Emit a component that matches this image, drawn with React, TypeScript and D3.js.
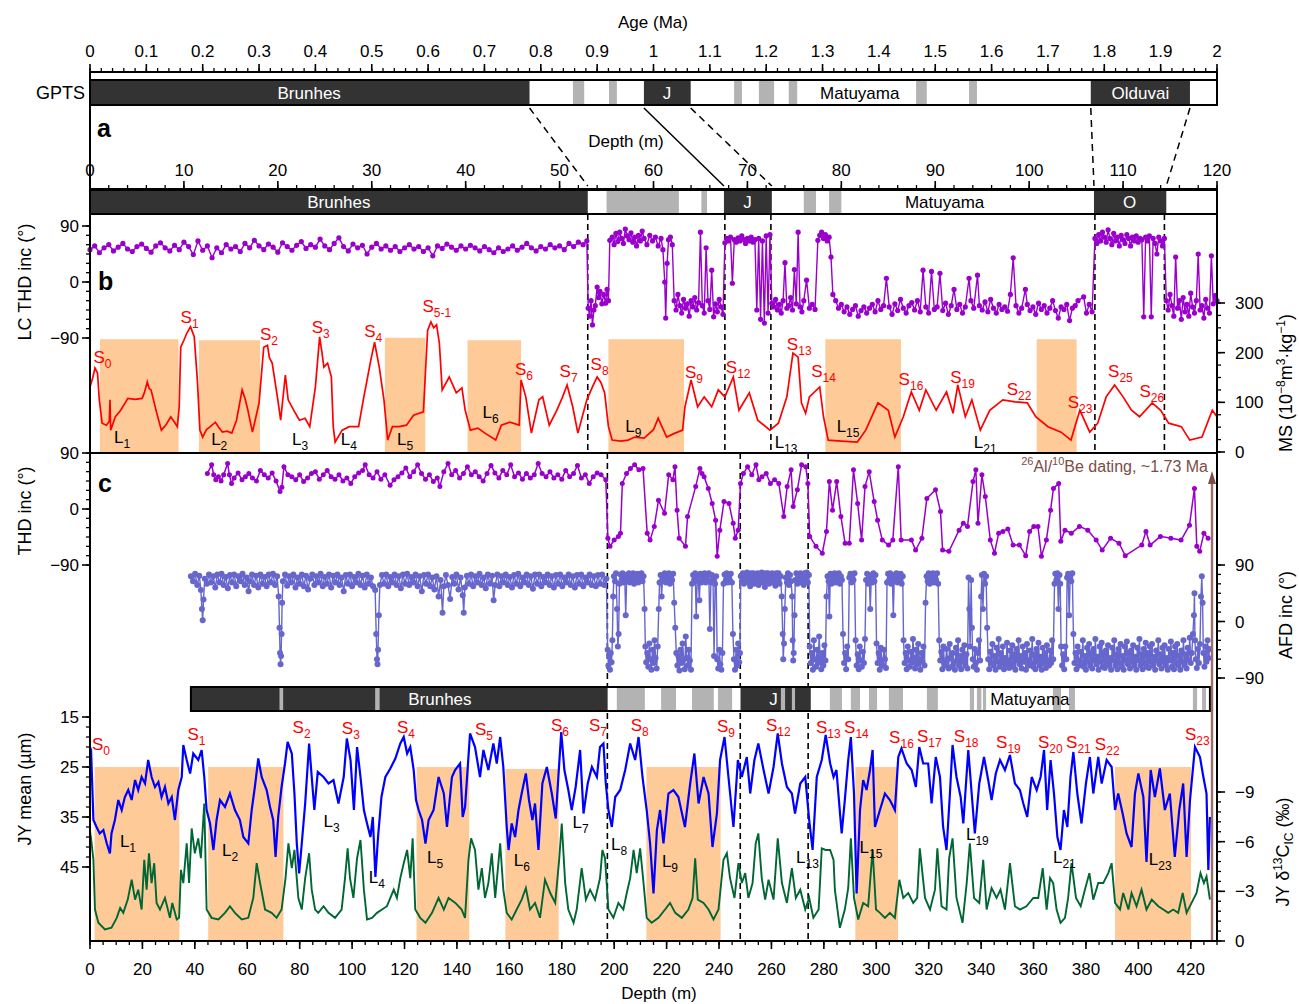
import React from 'react';
import * as d3 from 'd3';

type P = [number, number];

// ---------- polarity columns ----------
const gptsBlack: P[] = [[0, 0.78], [0.983, 1.066], [1.776, 1.952]];
const gptsGrey: P[] = [[0.857, 0.877], [0.921, 0.935], [1.143, 1.157], [1.187, 1.214], [1.24, 1.255], [1.466, 1.485], [1.56, 1.574]];
const gptsNames: [string, number, boolean][] = [['Brunhes', 0.389, true], ['J', 1.024, true], ['Matuyama', 1.366, false], ['Olduvai', 1.864, true]];
// age (Ma) -> LC depth (m), dashed?
const tieLines: [number, number, boolean][] = [[0.78, 53.0, true], [0.983, 67.5, false], [1.066, 72.6, true], [1.776, 106.9, true], [1.952, 114.6, true]];

const lcBlack: P[] = [[0, 53.0], [67.5, 72.6], [106.9, 114.6]];
const lcGrey: P[] = [[55.0, 62.7], [65.1, 65.7], [76.0, 77.3], [78.7, 80.0]];
const lcNames: [string, number, boolean][] = [['Brunhes', 26.5, true], ['J', 70.0, true], ['Matuyama', 91.0, false], ['O', 110.7, true]];
const lcBounds = [53.0, 67.6, 72.5, 107.0, 114.4];

const jyExtent: P = [38.5, 427.3];
const jyBlack: P[] = [[38.5, 197.5], [248.2, 275.0]];
const jyGrey: P[] = [[72.3, 73.7], [108.8, 110.5], [201, 211.7], [217.9, 223.6], [229.7, 238], [239.6, 245], [263.6, 265.2], [267.8, 269], [282.3, 286.9], [290.3, 293.8], [297.2, 300.3], [304.8, 310.2], [319.3, 323.5], [335.7, 337.3], [338.4, 340.1], [340.7, 341.9], [367.4, 370.5], [373.5, 375.8], [420.8, 422.4], [424.3, 425.8]];
const jyNames: [string, number, boolean][] = [['Brunhes', 133.5, true], ['J', 260.8, true], ['Matuyama', 358.6, false]];
const jyBounds = [197.4, 248.1, 274.0];

// ---------- loess shading ----------
const lcLoess: [number, number, number][] = [[1.06, 9.43, 227], [11.6, 18.1, 225], [31.4, 35.7, 230], [40.2, 45.9, 225], [55.2, 63.25, 227], [78.3, 86.35, 227], [100.8, 105.05, 227]];
const jyLoess: [number, number, number][] = [[1.75, 34.1, 25], [45.1, 73.8, 25], [124.6, 144.7, 25], [158.5, 178.8, 25.4], [212.3, 240.6, 25], [292, 308.3, 25], [391.1, 420.1, 25]];

// ---------- LC: magnetic susceptibility (10^-8 m3/kg) ----------
const lcMS: P[] = [[0,131],[0.3,150],[0.53,169],[0.8,159],[0.99,105],[1.29,58],[1.75,54],[2.05,62],[2.13,105],[2.2,44],[2.7,71],[3.27,84],[4.03,108],[4.8,106],[5.55,108],[5.8,120],[6.1,141],[6.3,128],[6.5,125],[7.07,81],[7.6,44],[8.1,55],[8.6,71],[9.0,60],[9.3,51],[9.5,91],[9.66,211],[10.0,225],[10.3,239],[10.7,252],[11.1,232],[11.45,139],[11.7,44],[12.0,30],[12.4,45],[12.8,51],[13.35,60],[13.7,50],[14.1,40],[14.6,42],[15.1,38],[15.6,64],[16.2,125],[16.5,108],[16.8,85],[17.3,40],[18.0,99],[18.5,211],[18.9,215],[19.1,190],[19.4,179],[20.0,105],[20.3,64],[20.8,155],[21.1,105],[21.7,84],[22.3,64],[22.9,68],[23.4,51],[24.0,131],[24.45,232],[24.7,200],[24.9,171],[25.3,179],[25.7,151],[25.9,51],[26.1,20],[26.85,44],[27.6,51],[28.6,51],[29.1,105],[29.9,185],[30.3,221],[30.8,171],[31.3,105],[31.7,24],[32.2,51],[32.9,51],[33.7,54],[34.45,74],[35.5,81],[35.95,245],[36.3,262],[36.6,250],[36.9,256],[37.2,219],[37.5,125],[38.25,151],[39.0,119],[39.6,129],[39.95,84],[40.5,44],[41.3,48],[42.05,38],[43.2,24],[43.8,54],[44.7,60],[45.7,54],[45.9,145],[46.4,111],[47.0,38],[47.8,105],[48.2,111],[48.9,54],[49.7,84],[50.3,110],[50.8,135],[51.4,91],[51.95,38],[52.9,105],[53.5,131],[54.0,151],[54.4,140],[54.8,119],[55.2,51],[55.6,24],[56.5,22],[57.3,24],[58.0,30],[59.0,28],[60.0,45],[60.5,68],[61.4,30],[62.3,38],[63.1,44],[63.35,91],[64.0,145],[64.7,91],[65.4,111],[66.2,91],[66.9,125],[67.6,111],[68.5,151],[69.1,84],[70.2,119],[71.1,64],[72.4,44],[73.3,58],[74.2,111],[74.85,199],[75.4,191],[75.75,99],[76.2,78],[76.6,111],[77.7,131],[78.1,71],[78.6,24],[80.0,22],[81.7,20],[82.6,44],[83.9,99],[85.0,84],[85.7,30],[86.6,71],[87.45,121],[88.3,84],[89.0,125],[90.1,84],[91.2,121],[91.9,78],[92.4,135],[93.2,71],[93.9,105],[94.8,44],[95.8,84],[97.2,105],[98.5,101],[99.8,99],[100.7,71],[102.0,51],[103.4,40],[104.45,24],[105.4,84],[106.45,40],[107.3,58],[108.2,111],[109.1,135],[110.0,111],[110.9,84],[111.75,71],[113.1,99],[114.0,84],[114.85,58],[116.2,51],[117.1,24],[118.4,30],[119.5,84],[120,71]];

// ---------- LC: THD inclination (deg) ----------
const lcInc: P[] = [[0,52],[0.5,58],[1,47],[1.5,55],[2,60],[2.5,50],[3,56],[3.5,62],[4,53],[4.5,49],[5,57],[5.5,61],[6,54],[6.5,48],[7,58],[7.5,63],[8,55],[8.5,50],[9,59],[9.5,52],[10,64],[10.5,57],[11,44],[11.5,66],[12,51],[12.5,58],[13,39],[13.5,55],[14,47],[14.5,60],[15,53],[15.5,57],[16,49],[16.5,62],[17,55],[17.5,67],[18,58],[18.5,52],[19,61],[19.5,56],[20,48],[20.5,63],[21,57],[21.5,51],[22,59],[22.5,65],[23,54],[23.5,60],[24,56],[24.5,69],[25,58],[25.5,52],[26,62],[26.5,71],[27,57],[27.5,50],[28,61],[28.5,55],[29,59],[29.5,45],[30,56],[30.5,62],[31,53],[31.5,58],[32,51],[32.5,57],[33,49],[33.5,55],[34,60],[34.5,53],[35,57],[35.5,49],[36,55],[36.5,42],[37,58],[37.5,54],[38,61],[38.5,56],[39,51],[39.5,58],[40,53],[40.5,59],[41,55],[41.5,50],[42,57],[42.5,52],[43,47],[43.5,55],[44,49],[44.5,53],[45,58],[45.5,51],[46,56],[46.5,62],[47,55],[47.5,50],[48,57],[48.5,53],[49,60],[49.5,55],[50,58],[50.5,52],[51,62],[51.5,57],[52,64],[52.5,60],[52.9,66],
[53.05,-42],[53.2,-55],[53.35,-30],[53.5,-69],[53.65,-45],[53.8,-38],[54.0,-8],[54.15,-25],[54.3,-15],[54.5,-35],[54.7,-20],[54.9,-34],[55.05,-12],[55.2,-30],[55.35,67],[55.6,72],[55.8,60],[56.0,78],[56.2,65],[56.4,80],[56.6,70],[56.8,62],[57.0,85],[57.2,74],[57.4,68],[57.6,79],[57.8,64],[58.0,72],[58.2,58],[58.4,75],[58.6,66],[58.8,82],[59.0,70],[59.3,60],[59.6,75],[59.9,66],[60.2,72],[60.5,58],[60.8,70],[61.0,52],[61.2,0],[61.3,-58],[61.45,30],[61.6,68],[61.8,72],[62.0,60],[62.2,-30],[62.4,-45],[62.6,-20],[62.8,-38],[63.0,-50],[63.2,-28],[63.4,-42],[63.6,-35],[63.8,-55],[64.0,-30],[64.2,-40],[64.4,-25],[64.6,-45],[64.8,-33],[65.0,80],[65.2,-38],[65.4,-50],[65.6,55],[65.8,-30],[66.0,-44],[66.2,19],[66.4,-56],[66.6,-35],[66.8,-48],[67.0,-28],[67.2,-40],[67.4,-52],
[67.6,63],[67.8,70],[68.0,66],[68.2,72],[68.4,-2],[68.6,68],[68.8,64],[69.0,71],[69.2,66],[69.4,74],[69.6,68],[69.8,62],[70.0,70],[70.2,66],[70.4,72],[70.6,64],[70.8,68],[71.0,-45],[71.2,70],[71.4,-60],[71.6,66],[71.8,-66],[72.0,74],[72.2,-50],[72.4,76],
[72.6,-34],[72.8,-40],[73.0,-28],[73.2,-45],[73.4,-36],[73.6,-50],[73.8,-30],[74.0,31],[74.2,-42],[74.4,-38],[74.6,-25],[74.8,-45],[75.0,20],[75.2,-35],[75.4,80],[75.6,-40],[75.8,-48],[76.0,-30],[76.3,3],[76.6,-42],[76.9,-36],[77.2,-44],[77.5,67],[77.7,75],[77.9,80],[78.1,70],[78.3,76],[78.5,66],[78.7,72],[78.9,40],[79.1,-20],[79.4,-30],[79.7,-42],[80.0,-36],[80.3,-48],[80.6,-40],[80.9,-52],[81.2,-44],[81.5,-38],[81.8,-55],[82.1,-46],[82.4,-40],[82.7,-50],[83.0,-42],[83.3,-36],[83.6,-48],[83.9,-30],[84.2,-44],[84.5,-38],[84.8,6],[85.1,-40],[85.4,-52],[85.7,-35],[86.0,-46],[86.3,-28],[86.6,-42],[86.9,-50],[87.2,-38],[87.5,-33],[87.8,-45],[88.1,-30],[88.4,-48],[88.7,19],[89.0,-40],[89.3,-50],[89.6,17],[89.9,-44],[90.2,-40],[90.5,14],[90.8,-46],[91.1,-34],[91.4,-52],[91.7,-38],[92.0,-12],[92.3,-44],[92.6,-36],[92.9,-50],[93.2,-40],[93.6,6],[93.8,-30],[94.1,-42],[94.5,11],[94.7,-38],[95.0,-45],[95.3,-32],[95.6,-48],[95.9,-28],[96.2,-42],[96.5,-50],[96.8,-36],[97.1,-44],[97.4,-40],[97.7,-47],[98.0,-20],[98.3,39],[98.6,-38],[98.9,-50],[99.2,-42],[99.6,-12],[99.8,-36],[100.1,-46],[100.4,-40],[100.7,-52],[101.0,-34],[101.3,-44],[101.6,-38],[101.9,-50],[102.2,-42],[102.5,-30],[102.8,-46],[103.1,-58],[103.4,-40],[103.7,-44],[104.0,-36],[104.3,-62],[104.6,-42],[104.9,-38],[105.2,-30],[105.8,-24],[106.1,-50],[106.4,-36],[106.7,-48],
[107.0,70],[107.2,62],[107.4,76],[107.6,66],[107.8,80],[108.0,72],[108.2,64],[108.4,84],[108.6,70],[108.8,60],[109.0,78],[109.2,66],[109.4,72],[109.6,58],[109.8,75],[110.0,68],[110.2,62],[110.4,76],[110.6,70],[110.8,58],[111.0,72],[111.2,66],[111.4,74],[111.6,64],[111.8,70],[112.0,68],[112.2,-56],[112.4,72],[112.6,66],[112.8,74],[113.0,-56],[113.2,70],[113.4,62],[113.6,45],[113.8,72],[114.0,66],[114.2,58],[114.4,70],
[114.6,-30],[114.8,-45],[115.0,-20],[115.2,-38],[115.4,-55],[115.6,40],[115.8,-42],[116.0,-30],[116.2,-60],[116.4,-25],[116.6,-48],[116.8,-36],[117.0,-55],[117.2,-18],[117.4,-40],[117.6,-50],[117.8,-30],[118.0,45],[118.2,-45],[118.4,-38],[118.6,-58],[118.8,-28],[119.0,-42],[119.2,-50],[119.4,42],[119.6,-35],[119.8,-22],[120.0,-30]];

// ---------- JY: THD inclination (deg) ----------
const jyThd: P[] = [[44.8,57],[46.4,71],[47.2,55],[48,47],[49,52],[50,45],[51,55],[52.5,73],[53.2,55],[54,41],[55,50],[56.5,58],[58,47],[59.3,52],[60.6,57],[62,50],[63.5,45],[65,62],[66.5,55],[68,50],[69.5,58],[71,45],[72.5,28],[73.2,35],[74,68],[75.5,55],[77,52],[78.5,47],[80,55],[81.5,44],[83,50],[84.5,57],[86,60],[87.5,48],[89,55],[90.5,62],[92,52],[93.5,48],[95,55],[96.5,45],[98,50],[99.5,41],[101,52],[102.5,58],[104,62],[105,71],[106.5,55],[108,50],[109.5,60],[111,48],[112.5,55],[114.5,38],[116,47],[117.5,52],[119,58],[120.5,66],[122,52],[123.5,60],[125,71],[126.5,57],[128,48],[129.5,55],[131,44],[132.5,50],[133.5,36],[135,60],[136.6,73],[138,55],[139.5,62],[141,50],[142.5,57],[144,68],[145.5,55],[147,60],[148.5,52],[150,45],[151.5,57],[153,70],[154.5,58],[156,50],[157.5,62],[159,55],[160.5,71],[162,52],[163.5,58],[165,48],[166.5,57],[168,50],[169.5,55],[171,73],[172.5,57],[174,52],[175.5,60],[177,50],[178.5,55],[180,48],[181.5,62],[183,52],[184.5,57],[186,70],[187.5,50],[189,55],[190.5,41],[192,52],[193.5,58],[195,55],[196.8,47],
[197.6,-47],[198.4,-60],[200,-50],[201.6,-44],[202.4,-39],[203.1,41],[204.7,57],[206.2,65],[207.8,71],[209.4,63],[211,65],[212.6,-39],
[213.7,-50],[215.3,-28],[216.9,14],[219.2,-7],[220.8,55],[222.4,47],[223.2,68],[224,-2],[224.8,-47],[227.2,-60],[228,-12],[231.1,36],[232.7,65],[233.5,57],[234.3,52],[235.9,33],[237.4,9],[238.7,-18],[239.3,-76],[240.3,-34],[241.9,12],[243.8,9],[245.4,-23],[246.2,-47],[247.3,-34],[248.2,41],
[249.3,57],[250.9,68],[252.5,55],[254.1,71],[255.2,47],[256.4,52],[258,57],[259.6,41],[261.2,47],[262.8,41],[264.7,-12],[266,36],[267.5,63],[268.3,4],[269.9,31],[271.5,71],[273.1,68],[273.9,41],
[274.6,-44],[277,-60],[279.4,-71],[281,-36],[282.1,44],[283.3,-2],[284.9,44],[286.5,-12],[288.1,-55],[289.7,-55],[291.3,63],[292.9,9],[294.4,-50],[295.7,36],[297.3,60],[299.2,12],[300.5,-18],[302.3,-50],[304.7,-58],[306.3,-50],[308.4,68],[309.5,-50],[313.4,-50],[315,-66],[317.4,-47],[319.3,17],[322.6,31],[324.5,-4],[325.3,-66],[327.7,-68],[331.6,-34],[333.2,-23],[334.8,-28],[336.9,44],[338,63],[338.8,-23],[340.3,55],[341.6,20],[343.5,-50],[345.1,-71],[346.7,-39],[348.3,-36],[350.2,-32],[352.2,-58],[354.6,-58],[357,-75],[358.5,-36],[360.1,-28],[361.7,-28],[363,-76],[364.9,-50],[366.5,-2],[367.6,33],[369.6,41],[370.4,-52],[372,-34],[374.4,-39],[377.5,-28],[380.7,-34],[383.9,-50],[386.2,-66],[389.4,-47],[392.6,-55],[395,-75],[401.3,-58],[402.9,-36],[404.5,-58],[408.4,-44],[412.4,-47],[416.3,-50],[419.5,-26],[421.4,33],[422.3,-60],[423.4,-68],[425,-39],[426.6,-47]];

// ---------- JY: AF demagnetization inclination (deg) ----------
const jyAfd: P[] = [[38.5,72],[39.3,64],[40.1,76],[40.9,58],[41.7,73],[42.3,50],[42.7,20],[43.0,2],[43.3,35],[43.8,68],[44.6,60],[45.4,75],[46.2,62],[47.0,72],[47.8,54],[48.6,75],[49.4,62],[50.2,76],[51.0,58],[51.8,71],[52.6,53],[53.4,74],[54.2,62],[55.0,75],[55.8,56],[56.6,72],[57.4,64],[58.2,76],[59.0,58],[59.8,70],[60.5,48],[61.0,64],[61.8,75],[62.6,58],[63.4,73],[64.2,54],[65.0,75],[65.8,60],[66.6,71],[67.4,56],[68.2,75],[69.0,62],[69.8,76],[70.6,58],[71.4,72],[72.0,40],[72.3,-10],[72.5,-50],[72.7,-68],[72.9,-55],[73.1,-20],[73.3,30],[73.6,64],[74.4,75],[75.2,57],[76.0,72],[76.8,62],[77.6,75],[78.4,54],[79.2,70],[80.0,60],[80.8,75],[81.6,56],[82.4,73],[83.2,51],[84.0,68],[84.8,75],[85.6,58],[86.4,72],[87.2,62],[88.0,76],[88.8,56],[89.6,71],[90.4,60],[91.2,75],[92.0,54],[92.8,73],[93.6,62],[94.4,75],[95.2,58],[96.0,70],[96.8,48],[97.6,74],[98.4,60],[99.2,75],[100.0,56],[100.8,71],[101.6,62],[102.4,76],[103.2,58],[104.0,73],[104.8,54],[105.6,75],[106.4,60],[107.2,70],[108.0,56],[108.8,50],[109.2,-20],[109.5,-60],[109.7,-68],[109.9,-45],[110.2,10],[110.6,58],[111.4,74],[112.2,60],[113.0,75],[113.8,56],[114.6,71],[115.4,62],[116.2,75],[117.0,58],[117.8,72],[118.6,53],[119.4,75],[120.2,60],[121.0,76],[121.8,58],[122.6,71],[123.4,62],[124.2,75],[125.0,56],[125.8,72],[126.6,48],[127.4,74],[128.2,60],[129.0,75],[129.8,56],[130.6,70],[131.4,51],[132.2,72],[133.0,40],[133.8,66],[134.5,14],[135.0,56],[135.8,74],[136.6,58],[137.4,36],[138.2,71],[139.0,60],[139.8,75],[140.6,51],[141.4,70],[142.2,42],[142.6,14],[143.0,54],[143.8,73],[144.6,60],[145.4,75],[146.2,56],[147.0,72],[147.8,62],[148.6,76],[149.4,58],[150.2,70],[151.0,53],[151.8,75],[152.6,60],[153.4,73],[154.0,34],[154.6,58],[155.4,75],[156.2,56],[157.0,72],[157.8,62],[158.6,75],[159.4,58],[160.2,71],[161.0,54],[161.8,74],[162.6,60],[163.4,76],[164.2,56],[165.0,70],[165.8,62],[166.6,75],[167.4,58],[168.2,72],[169.0,52],[169.8,75],[170.6,60],[171.4,75],[172.2,56],[173.0,71],[173.8,62],[174.6,75],[175.4,58],[176.2,72],[177.0,54],[177.8,74],[178.6,60],[179.4,75],[180.2,56],[181.0,70],[181.8,62],[182.6,75],[183.4,58],[184.2,72],[185.0,54],[185.8,74],[186.6,60],[187.4,75],[188.2,56],[189.0,70],[189.8,62],[190.6,75],[191.4,58],[192.2,72],[193.0,56],[193.8,74],[194.6,60],[195.4,75],[196.2,58],[197.0,68],
[197.5,-45],[197.8,-70],[198.1,-55],[198.4,-77],[198.7,-50],[199.0,-65],[199.3,-30],[199.6,40],[199.9,72],[200.3,64],[200.7,77],[201.1,20],[201.4,-40],[201.7,-20],[202.0,60],[202.4,75],[202.8,66],[203.2,77],[203.6,62],[204.0,74],[204.4,10],[204.8,70],[205.2,64],[205.6,77],[206.0,62],[206.4,74],[206.8,66],[207.2,77],[207.6,60],[208.0,72],[208.4,66],[208.8,76],[209.2,62],[209.6,74],[210.0,68],[210.4,77],[210.8,64],[211.2,72],[211.6,20],[211.9,-40],[212.2,-65],[212.6,-50],[213.0,-72],[213.4,-35],[213.8,-60],[214.2,-77],[214.6,-45],[215.0,-66],[215.4,-30],[215.8,-58],[216.2,-75],[216.6,-40],[217.0,20],[217.3,62],[217.7,74],[218.1,40],[218.5,72],[218.9,66],[219.3,77],[219.7,62],[220.1,74],[220.5,64],[220.9,77],[221.3,60],[221.7,72],[222.1,66],[222.5,76],[222.9,30],[223.3,-10],[223.7,-50],[224.1,-70],[224.5,-55],[224.9,-78],[225.3,-45],[225.7,-66],[226.1,-35],[226.5,-60],[226.9,-76],[227.3,-24],[227.7,-58],[228.1,-70],[228.5,-45],[228.9,-62],[229.3,-77],[229.7,60],[230.1,74],[230.5,66],[230.9,77],[231.3,8],[231.7,72],[232.1,64],[232.5,34],[232.9,76],[233.3,62],[233.7,74],[234.1,68],[234.5,77],[234.9,62],[235.3,72],[235.7,65],[236.1,77],[236.5,-12],[236.9,62],[237.3,74],[237.7,68],[238.1,-55],[238.5,60],[238.9,72],[239.3,-60],[239.7,-75],[240.1,-45],[240.5,-68],[240.9,-77],[241.3,-50],[241.7,60],[242.1,75],[242.5,64],[242.9,77],[243.3,62],[243.7,74],[244.1,66],[244.5,76],[244.9,62],[245.3,-20],[245.7,-60],[246.1,-77],[246.5,-45],[246.9,-70],[247.3,-35],[247.7,-65],[248.0,-50],
[248.3,72],[248.7,64],[249.1,77],[249.5,60],[249.9,75],[250.3,66],[250.7,78],[251.1,62],[251.5,74],[251.9,56],[252.3,77],[252.7,64],[253.1,77],[253.5,60],[253.9,72],[254.3,66],[254.7,77],[255.1,58],[255.5,75],[255.9,64],[256.3,78],[256.7,62],[257.1,74],[257.5,55],[257.9,77],[258.3,65],[258.7,77],[259.1,60],[259.5,73],[259.9,66],[260.3,77],[260.7,62],[261.1,74],[261.5,57],[261.9,77],[262.3,64],[262.7,77],[263.1,60],[263.5,72],[263.9,40],[264.3,-20],[264.5,-60],[264.8,-35],[265.1,20],[265.5,70],[265.9,62],[266.3,77],[266.7,58],[267.1,74],[267.5,64],[267.9,40],[268.1,-30],[268.3,-62],[268.5,-50],[268.8,10],[269.1,66],[269.5,77],[269.9,60],[270.3,73],[270.7,66],[271.1,77],[271.5,62],[271.9,74],[272.3,58],[272.7,77],[273.1,64],[273.5,78],[273.9,62],[274.3,74],
[274.6,-40],[275.0,-66],[275.4,-50],[275.8,-77],[276.2,-30],[276.6,-60],[277.0,-72],[277.4,-45],[277.8,-66],[278.2,-24],[278.6,-58],[279.0,-76],[279.4,-50],[279.8,-70],[280.2,-38],[280.6,-62],[281.0,40],[281.4,72],[281.8,64],[282.1,8],[282.5,76],[282.9,60],[283.3,74],[283.7,66],[284.1,77],[284.5,62],[284.9,74],[285.3,64],[285.7,77],[286.1,60],[286.5,72],[286.9,66],[287.3,-20],[287.7,-66],[288.1,-50],[288.5,-76],[288.9,-40],[289.3,-60],[289.7,70],[290.1,76],[290.5,62],[290.9,74],[291.3,66],[291.7,77],[292.1,-30],[292.5,-70],[292.9,-52],[293.3,-76],[293.7,-40],[294.1,-62],[294.5,-72],[294.9,-48],[295.3,-66],[295.7,-28],[296.1,66],[296.5,76],[296.9,60],[297.3,74],[297.7,20],[298.1,70],[298.5,62],[298.9,77],[299.3,64],[299.7,74],[300.1,-35],[300.5,-66],[300.9,-50],[301.3,-77],[301.7,-42],[302.1,-62],[302.5,-70],[302.9,-45],[303.3,-60],[303.7,-74],[304.1,62],[304.5,76],[304.9,66],[305.3,77],[305.7,60],[306.1,72],[306.5,10],[306.9,74],[307.3,64],[307.7,77],[308.1,62],[308.5,74],[308.9,66],[309.3,76],[309.7,60],[310.1,72],[310.4,-30],[310.8,-66],[311.2,-50],[311.6,-76],[312.0,-40],[312.4,-62],[312.8,-72],[313.2,-48],[313.6,-66],[314.0,-28],[314.4,-58],[314.8,-75],[315.2,-45],[315.6,-68],[316.0,-36],[316.4,-60],[316.8,-77],[317.2,-50],[317.6,-64],[318.0,-40],[318.4,-70],[318.8,30],[319.2,72],[319.6,64],[320.0,77],[320.4,60],[320.8,74],[321.2,66],[321.6,77],[322.0,62],[322.4,74],[322.8,66],[323.2,77],[323.6,60],[324.0,-30],[324.4,-62],[324.8,-48],[325.2,-76],[325.6,-40],[326.0,-66],[326.4,-70],[326.8,-44],[327.2,-60],[327.6,-75],[328.0,-36],[328.4,-58],[328.8,-72],[329.2,-50],[329.6,-66],[330.0,-77],[330.4,-42],[330.8,-62],[331.2,-30],[331.6,-70],[332.0,-55],[332.4,-76],[332.8,-45],[333.2,-64],[333.6,-38],[334.0,-70],[334.4,-52],[334.8,-75],[335.2,70],[335.5,20],[335.8,-40],[336.2,66],[336.5,-10],[336.8,-60],[337.2,-72],[337.6,-44],[338.0,-66],[338.4,-77],[338.8,-50],[339.2,-30],[339.6,-62],[340.0,40],[340.3,74],[340.7,20],[341.1,76],[341.5,60],[341.9,72],[342.3,-10],[342.7,-60],[343.1,-76],[343.5,-48],[343.9,-66],[344.3,-36],[344.7,-70],[345.1,-55],[345.5,-77],[345.9,-42],[346.3,-64],[346.7,-28],[347.1,-72],[347.5,-50],[347.9,-66],[348.3,-40],[348.7,-76],[349.1,-58],[349.5,-68],[349.9,-34],[350.3,-62],[350.7,-74],[351.1,-46],[351.5,-66],[351.9,-38],[352.3,-72],[352.7,-52],[353.1,-77],[353.5,-44],[353.9,-62],[354.3,-30],[354.7,-68],[355.1,-55],[355.5,-75],[355.9,-40],[356.3,-64],[356.7,-50],[357.1,-77],[357.5,-36],[357.9,-62],[358.3,-70],[358.7,-46],[359.1,-66],[359.5,-28],[359.9,-72],[360.3,-52],[360.7,-76],[361.1,-44],[361.5,-64],[361.9,-34],[362.3,-70],[362.7,-56],[363.1,-77],[363.5,-42],[363.9,-66],[364.3,-50],[364.7,-74],[365.1,-38],[365.5,-62],[365.9,-70],[366.3,-46],[366.7,-66],[367.1,-30],[367.5,-60],
[368.0,60],[368.3,76],[368.7,66],[369.1,77],[369.5,20],[369.9,74],[370.2,60],[370.5,-40],[370.9,-70],[371.3,-52],[371.7,-76],[372.1,-40],[372.5,-60],[372.8,70],[373.2,76],[373.6,10],[374.0,72],[374.4,64],[374.8,77],[375.2,-20],[375.6,-66],[376.0,-50],[376.4,-76],[376.8,-40],[377.2,-62],[377.6,-70],[378.0,-48],[378.4,-66],[378.8,-30],[379.2,-72],[379.6,-55],[380.0,-77],[380.4,-42],[380.8,-64],[381.2,-36],[381.6,-70],[382.0,-50],[382.4,-75],[382.8,-44],[383.2,-62],[383.6,-28],[384.0,-68],[384.4,-56],[384.8,-77],[385.2,-40],[385.6,-64],[386.0,-34],[386.4,-72],[386.8,-50],[387.2,-74],[387.6,-46],[388.0,-66],[388.4,-38],[388.8,-70],[389.2,-58],[389.6,-77],[390.0,-42],[390.4,-62],[390.8,-30],[391.2,-70],[391.6,-52],[392.0,-76],[392.4,-44],[392.8,-66],[393.2,-36],[393.6,-72],[394.0,-55],[394.4,-77],[394.8,-40],[395.2,-62],[395.6,-32],[396.0,-68],[396.4,-50],[396.8,-75],[397.2,-46],[397.6,-64],[398.0,-38],[398.4,-70],[398.8,-56],[399.2,-77],[399.6,-42],[400.0,-62],[400.4,-28],[400.8,-70],[401.2,-52],[401.6,-76],[402.0,-44],[402.4,-66],[402.8,-34],[403.2,-72],[403.6,-50],[404.0,-74],[404.4,-40],[404.8,-64],[405.2,-36],[405.6,-70],[406.0,-56],[406.4,-77],[406.8,-46],[407.2,-62],[407.6,-30],[408.0,-68],[408.4,-52],[408.8,-75],[409.2,-42],[409.6,-64],[410.0,-38],[410.4,-70],[410.8,-58],[411.2,-77],[411.6,-44],[412.0,-62],[412.4,-32],[412.8,-72],[413.2,-50],[413.6,-76],[414.0,-40],[414.4,-66],[414.8,-36],[415.2,-70],[415.6,-54],[416.0,-77],[416.4,-46],[416.8,-64],[417.2,-30],[417.6,-70],[418.0,-52],[418.4,-75],[418.8,-42],[419.2,-62],[419.6,-26],[420.0,-66],[420.4,-50],[420.8,-20],[421.2,10],[421.4,45],[421.6,-30],[421.9,-60],[422.3,-74],[422.7,-44],[423.1,-66],[423.5,-36],[423.9,40],[424.2,72],[424.5,30],[424.8,-50],[425.2,-72],[425.6,-40],[426.0,-64],[426.4,-30],[426.8,-58],[427.2,-44]];

// ---------- JY: mean grain size (um) ----------
const jyGrain: P[] = [[0,21],[0.4,21.6],[1.3,35.6],[2.5,37],[3.7,38.3],[5.1,37.6],[6.4,40.3],[7.6,42.3],[8.2,38.3],[9.5,35.6],[10.8,31.6],[12.1,33.6],[13.3,31],[14.6,29.6],[15.9,31.6],[17.2,27.6],[18.4,29.6],[19.7,27],[21,28.3],[22.2,23.6],[23.5,27],[24.8,29],[26.1,28],[27.3,31],[28.6,29],[29.9,32.3],[31.2,31],[32.4,35.6],[33.7,29.6],[35,27],[35.6,20.6],[36.9,23.6],[38.2,26.3],[39.4,22.3],[41.3,23.6],[42.6,21.6],[43.6,27],[44.5,33.6],[45.8,36.3],[47.1,41.6],[48.3,35.6],[49.6,31.6],[51.5,33],[53.4,30.3],[55.3,33.6],[57.2,35.6],[58.5,39],[60.4,40.3],[61.7,33.6],[62.9,29],[64.2,23.3],[65.5,27],[67.4,29.6],[68.7,33],[69.9,35.6],[70.8,43],[71.8,35],[73.1,29],[74.4,24.3],[75.4,20],[77,22.3],[78,30.3],[78.9,40.3],[79.8,46.3],[80.8,40.3],[82.1,32.3],[83.6,20.3],[84.6,27],[85.6,33.6],[86.9,26],[89.1,27],[91,28.3],[92.9,27.6],[94.8,32.3],[96.8,27],[98,19.3],[99.4,23.6],[100.7,33.6],[101.9,21],[103.2,27],[104.5,33.6],[105.7,36.3],[107,39],[107.9,35],[108.9,47],[109.9,39],[111.2,31],[112.7,27],[114.6,25.3],[116.5,23.3],[118.4,20.3],[119.7,19],[121,22.3],[122.2,21],[123.5,25.6],[124.4,31.6],[125.4,33.6],[126.7,35.6],[128,40.3],[129.2,35.6],[131.1,33.6],[133,27],[135,30.3],[136.2,37],[138.1,27],[139.3,25.6],[141.2,24.3],[142.2,35],[143.1,33],[145,18.3],[146.9,21],[148.8,27],[150.1,21.6],[152,25.6],[153.9,20.3],[155.2,24.3],[156.5,19],[157.7,25],[159,37],[159.7,41.6],[160.9,36.3],[162.2,39],[163.5,33.6],[164.7,30.3],[166.3,26.3],[167.5,31.6],[168.8,35.6],[169.8,32.3],[171.1,41.6],[172.6,28.3],[174.3,25],[176.2,30.3],[177.7,35.3],[178.7,27],[179.8,18],[181,25.6],[182.5,29.6],[183.8,33.6],[185.3,29],[187,21.6],[188.3,34.3],[189.9,28.3],[191.5,25],[193.4,27],[194.6,21],[195.9,20.3],[196.8,28.3],[197.8,33.6],[199.1,37],[200.4,31],[202.3,29.6],[204.2,25.6],[206.1,20.3],[208,23.6],[209.3,19],[210.8,27],[212.4,33.6],[213.7,40.3],[215,50.3],[216.3,37.6],[217.5,33.6],[218.8,40.3],[220.7,30.3],[222.6,29.6],[224.5,31],[227,37],[229,28.3],[230.6,22.3],[232.2,32.3],[234.1,27],[236,30.3],[237.5,41],[239.2,34.3],[240.4,23.6],[242.1,19],[243.6,27],[245.5,37],[247.2,23.6],[248.7,27],[250.6,23],[251.9,30.3],[253.5,23.6],[255,20.3],[257,25.6],[258.9,30.3],[260.8,25],[262.4,18.3],[264,24.3],[265.9,29],[267.8,30.3],[269,34.3],[271,28.3],[272.9,27],[274.4,35.6],[275.7,41.6],[277.3,27],[279.2,23.6],[280.7,18.6],[282.4,24.3],[283.7,27],[284.8,25.6],[286.8,38.3],[288,31.6],[289.3,23.6],[290.3,19],[291.5,30.3],[292.5,50.3],[293.8,33.6],[295,27.6],[296.3,29.6],[297.6,25.6],[298.6,21.6],[299.5,37],[301.4,33.6],[303.3,30.3],[305.2,31.6],[307.1,33.6],[308.4,23],[309.6,21.3],[311.6,24.3],[313.5,25.6],[315.1,29],[316.4,21],[317.9,24.3],[319.8,24.3],[321.1,32.3],[322.7,23],[324.3,27],[325.5,37],[326.8,41.6],[328.1,30.3],[329.1,20.6],[330.6,27],[332.2,31],[333.2,36.3],[335.1,21.6],[336.4,30.3],[337.6,38.3],[339.3,28.3],[341.1,23],[342.7,27.6],[344,31.6],[345.6,26.3],[347.2,23.6],[349.1,25.6],[351,22.6],[352.9,28.3],[354.8,29.6],[356.1,32.3],[357.6,35],[359.3,27],[361.2,29.6],[362.7,27],[364,21.6],[365.2,33.6],[366.5,23.6],[367.8,30.3],[369.1,39],[370.3,41.6],[371.6,33.6],[372.9,37],[374.1,27],[375.2,22],[376.7,30.3],[378.3,36.3],[380,28.3],[381.5,23],[382.8,30.3],[384.7,23],[386,28.3],[387.9,23.6],[389.8,25],[391.1,33.6],[392.3,30.3],[394,34.3],[395.5,38.3],[397.4,41],[398.7,30.3],[400,26.3],[401.9,31],[403.1,44],[404.7,25.6],[406.3,31],[408.2,25.3],[410.1,33.6],[412,30.3],[413.9,43],[415.6,33.6],[417.1,28.3],[418.4,43],[419.7,31.6],[421.6,21],[423.5,23],[424.8,27],[426,30.3],[426.7,45.6],[427.3,35]];

// ---------- JY: inorganic carbon d13C (permil) ----------
const jyD13: P[] = [[0,-6.6],[0.4,-6.2],[1.3,-4.9],[1.9,-1.9],[3.2,-1.1],[5.7,-0.7],[8.2,-0.8],[10.2,-1.4],[11.5,-2],[12.7,-1.7],[14.4,-2.5],[15.9,-3.7],[17.2,-2.5],[18.4,-3.1],[19.7,-1.9],[20.7,-4.9],[21.6,-3.1],[22.5,-5.3],[23.5,-3.5],[24.5,-4.7],[25.4,-2.3],[26.7,-1.9],[28.6,-2.6],[30.5,-1.4],[31.4,-2.3],[33.1,-1.3],[34,-1.4],[34.7,-4.3],[35.6,-3.5],[36.9,-5.9],[37.8,-3.5],[38.8,-6.8],[40,-5.3],[41.3,-6.2],[42.3,-5],[43.6,-8.3],[44.5,-1.9],[46.4,-1.4],[49,-1.3],[51.5,-1.7],[53.4,-2.1],[55.3,-1.7],[57.9,-1.3],[60.4,-1.4],[62.3,-2.6],[63.6,-4.7],[64.9,-3.5],[66.8,-1.9],[69.3,-1.7],[71.2,-1.4],[73.1,-1.9],[74.6,-3.8],[75.7,-5.9],[77,-4.4],[78,-5.5],[79.5,-2.6],[80.8,-1.9],[82.1,-3.8],[83.6,-5.3],[84.6,-3.1],[85.9,-1.9],[87.1,-1.7],[89.1,-2.1],[91,-1.7],[93.5,-1.4],[96,-1.9],[97.3,-3.8],[98.3,-5.6],[99.2,-3.8],[100.5,-2.6],[101.9,-5],[103.2,-6.1],[104.5,-3.1],[105.7,-1.3],[107.6,-1.4],[109.5,-1.7],[111.4,-1.9],[113.3,-2.1],[114.6,-2.6],[115.9,-3.1],[117.1,-2.6],[118.4,-3.8],[119.7,-4.7],[121,-5.5],[122.2,-3.8],[123.1,-6.2],[124.1,-1.9],[126,-1.4],[128,-1.1],[130.5,-1.7],[133,-2.6],[135,-1.9],[136.8,-2.6],[139.4,-2.3],[141.8,-1.9],[143.1,-1.4],[144.4,-4.9],[145.4,-6.2],[146.9,-5.5],[148.2,-3.1],[149.5,-4.4],[150.7,-2.6],[152,-3.5],[153.3,-5.3],[154.6,-2.6],[156.5,-5.9],[157.7,-3.1],[159,-1.7],[160.9,-1.3],[162.8,-1.9],[164.7,-2.5],[166.3,-3.2],[167.9,-1.9],[169.8,-2.3],[171.7,-1.4],[173.6,-3.7],[175.6,-2.9],[177.5,-2.3],[179,-4.9],[180,-7.1],[181.3,-3.5],[182.5,-1.9],[184.5,-1.1],[185.7,-1.9],[187.6,-4.4],[189.2,-2.5],[190.8,-3.1],[192.7,-2.5],[194.6,-3.8],[195.5,-5.5],[196.5,-5],[197.8,-1.9],[199.7,-1.4],[201.6,-2.3],[203.5,-1.9],[204.8,-2.9],[206.1,-3.8],[207.4,-5.5],[208.6,-4.1],[209.9,-5.6],[211.2,-3.5],[212.4,-1.4],[214.3,-1.1],[216.9,-1.4],[219.4,-1.9],[221.3,-2.3],[223.3,-1.7],[225.8,-1.4],[228.3,-1.9],[229.9,-2.6],[230.9,-5],[231.9,-2.5],[234.1,-2.3],[236,-1.9],[237.9,-1.3],[239.8,-1.9],[241.7,-4.9],[243,-5.3],[244.2,-3.8],[245.9,-2.6],[247.4,-4.7],[248.7,-3.5],[250,-4.1],[251.2,-2.6],[252.8,-3.5],[254,-5.9],[255,-6.5],[256.3,-3.8],[257.6,-2.5],[258.9,-3.7],[260.8,-2.5],[262.4,-6.2],[264,-3.5],[265.9,-2.3],[267.8,-4.4],[269.3,-2.6],[271,-3.1],[272.9,-1.9],[274.4,-2.6],[276,-1.4],[278,-1.9],[279.2,-5.6],[280.7,-5.5],[282.4,-5.5],[283.7,-4.9],[284.2,-3.1],[286.1,-0.8],[288,-1.9],[289.3,-3.2],[290.3,-6.2],[291.5,-2.6],[293.1,-1.3],[295,-2.3],[296.9,-2.1],[298.6,-5.5],[299.9,-1.9],[301.4,-1.7],[303.3,-1.4],[305.2,-1.7],[307.1,-1.4],[308.8,-3.7],[310.3,-2.6],[312.2,-2.9],[314.1,-2.3],[315.6,-2.6],[316.6,-5.6],[318.6,-2.6],[320.5,-1.9],[322.4,-3.1],[323.3,-5.6],[324.9,-2.1],[326.8,-1.9],[327.8,-5],[329.1,-6.2],[330.6,-2.6],[332.9,-1.1],[334.5,-3.5],[335.7,-5.9],[337.3,-2.6],[339.3,-2.3],[340.8,-4.9],[342.1,-1.9],[344,-3.2],[345.9,-2.6],[347.4,-3.1],[349.1,-1.9],[351,-4.7],[352.9,-2.1],[354.8,-1.9],[357.3,-2.1],[359.9,-2.6],[361.8,-2.6],[363.5,-4.4],[365,-1.9],[366.3,-3.8],[367.5,-3.5],[368.8,-1.9],[370.3,-1.1],[372,-1.4],[373.2,-2.6],[374.5,-4.7],[376.2,-2.6],[378,-2.1],[379.6,-3.1],[381.3,-4.1],[382.8,-2.5],[384.7,-3.5],[386.6,-3.5],[388.5,-4.1],[389.8,-4.7],[391.1,-2.3],[393,-1.9],[394.2,-2.9],[396.2,-1.9],[397.4,-2.9],[399.3,-2.1],[401.2,-3.1],[403.1,-1.9],[405.1,-2.5],[407.6,-2.1],[409.5,-1.9],[411.4,-1.7],[413.3,-1.9],[415.2,-1.7],[416.9,-2.9],[418.4,-1.7],[420.3,-2.3],[422.2,-2.9],[423.7,-4.1],[425,-3.5],[426,-3.9],[427.3,-2.5]];

// ---------- stratigraphic labels (depth, value at label baseline) ----------
type Lb = [string, string, number, number];
const lcSoils: Lb[] = [['S','0',0.36,179],['S','1',9.64,260],['S','2',18.1,225],['S','3',23.6,239],['S','4',29.2,231],['S','5-1',35.4,282],['S','6',45.25,155],['S','7',50.0,151],['S','8',53.3,165],['S','9',63.35,149],['S','12',67.7,159],['S','13',74.2,205],['S','14',76.8,151],['S','16',86.1,135],['S','19',91.6,139],['S','22',97.6,115],['S','23',104.1,89],['S','25',108.4,151],['S','26',111.75,111]];
const lcLoessLab: Lb[] = [['L','1',2.56,18],['L','2',12.9,14],['L','3',21.5,14],['L','4',26.7,14],['L','5',32.7,14],['L','6',41.8,68],['L','9',57.0,40],['L','13',72.9,8],['L','15',79.5,40],['L','21',94.1,8]];
const jySoils: Lb[] = [['S','0',0.76,21.6],['S','1',37.2,19.6],['S','2',77.3,18.2],['S','3',96.1,18.4],['S','4',117.1,18.2],['S','5',146.9,18.6],['S','6',175.9,17.8],['S','7',190.4,17.8],['S','8',206.3,17.8],['S','9',239.2,18],['S','12',257.9,17.8],['S','13',277,18.2],['S','14',287.7,18.2],['S','16',304.9,20.2],['S','17',315.5,20],['S','18',329.6,20],['S','19',345.7,21.2],['S','20',361.7,21.2],['S','21',372.4,21.2],['S','22',383.4,21.6],['S','23',417.8,19.6]];
const jyLoessLab: Lb[] = [['L','1',11.4,41],['L','2',50.4,42.8],['L','3',89.1,37],['L','4',106.4,48.2],['L','5',128.6,44.2],['L','6',161.7,44.8],['L','7',184.1,37.2],['L','8',198.8,41.6],['L','9',218.2,45],['L','13',269.4,44.2],['L','15',293.6,42.2],['L','19',334.2,39.6],['L','21',367.4,44.2],['L','23',404,44.6]];

// ---------- axes ----------
const ageTicks = [0, 0.1, 0.2, 0.3, 0.4, 0.5, 0.6, 0.7, 0.8, 0.9, 1, 1.1, 1.2, 1.3, 1.4, 1.5, 1.6, 1.7, 1.8, 1.9, 2];
const lcDepthTicks = [0, 10, 20, 30, 40, 50, 60, 70, 80, 90, 100, 110, 120];
const jyDepthTicks = [0, 20, 40, 60, 80, 100, 120, 140, 160, 180, 200, 220, 240, 260, 280, 300, 320, 340, 360, 380, 400, 420];
const incTicks = [-90, 0, 90];
const msTicks = [0, 100, 200, 300];
const grainTicks = [15, 25, 35, 45];
const d13Ticks = [-9, -6, -3, 0];
const dating = 428.1; // depth of the 26Al/10Be arrow

const FONT = "'Liberation Sans', Arial, Helvetica, sans-serif";
const PURPLE = '#9900cc';
const AFD = '#6666cc';
const ORANGE = '#fdca98';
const DARK = '#333333';
const GREY = '#b3b3b3';
const BROWN = '#7d4c46';

const L = 90, R = 1217;
const fmt = (v: number) => (v < 0 ? '\u2212' : '') + String(+Math.abs(v).toFixed(1));

function Lab({ x, y, t, sub, color }: { x: number; y: number; t: string; sub: string; color: string }) {
  return (
    <text x={x} y={y} fill={color} fontSize={17}>
      {t}
      <tspan dy={5} fontSize={12}>{sub}</tspan>
    </text>
  );
}

export default function App() {
  const ageX = d3.scaleLinear().domain([0, 2]).range([L, R]);
  const lcX = d3.scaleLinear().domain([0, 120]).range([L, R]);
  const jyX = d3.scaleLinear().domain([0, 430]).range([L, R]);
  const lcIncY = d3.scaleLinear().domain([-90, 90]).range([338, 226]);
  const msY = d3.scaleLinear().domain([0, 300]).range([452, 303]);
  const thdY = d3.scaleLinear().domain([-90, 90]).range([565, 453]);
  const afdY = d3.scaleLinear().domain([-90, 90]).range([678, 565]);
  const grainY = d3.scaleLinear().domain([15, 45]).range([717, 867]);
  const d13Y = d3.scaleLinear().domain([-9, 0]).range([792, 941]);

  const line = (x: d3.ScaleLinear<number, number>, y: d3.ScaleLinear<number, number>, data: P[]) =>
    d3.line<P>().x(d => x(d[0])).y(d => y(d[1]))(data) || '';

  const bTop = 214, bBot = 453, cBot = 941;

  const hAxis = (sc: d3.ScaleLinear<number, number>, y: number, majors: number[], minorStep: number, max: number, dir: number, labY: number) => (
    <g>
      <line x1={L} x2={R} y1={y} y2={y} stroke="#000" strokeWidth={2} />
      {d3.range(0, max + 1e-6, minorStep).map((v, i) => (
        <line key={'m' + i} x1={sc(v)} x2={sc(v)} y1={y} y2={y + dir * 4} stroke="#000" strokeWidth={1.3} />
      ))}
      {majors.map(v => (
        <g key={'M' + v}>
          <line x1={sc(v)} x2={sc(v)} y1={y} y2={y + dir * 8} stroke="#000" strokeWidth={1.6} />
          <text x={sc(v)} y={labY} textAnchor="middle" fontSize={17}>{fmt(v)}</text>
        </g>
      ))}
    </g>
  );

  const vAxis = (sc: d3.ScaleLinear<number, number>, x: number, majors: number[], minors: number[], side: number) => (
    <g>
      {minors.map((v, i) => (
        <line key={'m' + i} x1={x} x2={x + side * 4} y1={sc(v)} y2={sc(v)} stroke="#000" strokeWidth={1.3} />
      ))}
      {majors.map(v => (
        <g key={'M' + v}>
          <line x1={x} x2={x + side * 8} y1={sc(v)} y2={sc(v)} stroke="#000" strokeWidth={1.6} />
          <text x={side < 0 ? x - 11 : x + 18} y={sc(v)} dy="0.36em" textAnchor={side < 0 ? 'end' : 'start'} fontSize={17}>{fmt(v)}</text>
        </g>
      ))}
    </g>
  );

  const bar = (sc: d3.ScaleLinear<number, number>, y0: number, y1: number, ext: P, black: P[], grey: P[], names: [string, number, boolean][], greyFirst: boolean) => (
    <g>
      <rect x={sc(ext[0])} y={y0} width={sc(ext[1]) - sc(ext[0])} height={y1 - y0} fill="#fff" />
      {greyFirst && grey.map((g, i) => <rect key={'g' + i} x={sc(g[0])} y={y0} width={sc(g[1]) - sc(g[0])} height={y1 - y0} fill={GREY} />)}
      {black.map((b, i) => <rect key={'b' + i} x={sc(b[0])} y={y0} width={sc(b[1]) - sc(b[0])} height={y1 - y0} fill={DARK} />)}
      {!greyFirst && grey.map((g, i) => <rect key={'g' + i} x={sc(g[0])} y={y0} width={sc(g[1]) - sc(g[0])} height={y1 - y0} fill={GREY} />)}
      <rect x={sc(ext[0])} y={y0} width={sc(ext[1]) - sc(ext[0])} height={y1 - y0} fill="none" stroke="#000" strokeWidth={2} />
      {names.map(([n, v, w]) => (
        <text key={n} x={sc(v)} y={y1 - 6} textAnchor="middle" fontSize={17} fill={w ? '#fff' : '#000'}>{n}</text>
      ))}
    </g>
  );

  return (
    <svg width={1299} height={1004} style={{ position: 'absolute', left: 0, top: 0, background: '#fff' }} fontFamily={FONT}>
      {/* ---------- top: age axis + GPTS ---------- */}
      <text x={653} y={28} textAnchor="middle" fontSize={17}>Age (Ma)</text>
      {hAxis(ageX, 72, ageTicks, 0.02, 2, -1, 57)}
      <text x={85} y={99} textAnchor="end" fontSize={18}>GPTS</text>
      {bar(ageX, 80, 105, [0, 2], gptsBlack, gptsGrey, gptsNames, true)}

      {/* panel a: tie lines */}
      <text x={97} y={137} fontSize={25} fontWeight="bold">a</text>
      <text x={626} y={147} textAnchor="middle" fontSize={17}>Depth (m)</text>
      {tieLines.map(([a, d, dashed], i) => (
        <line key={i} x1={ageX(a)} y1={108} x2={lcX(d)} y2={186} stroke="#000" strokeWidth={1.5} strokeDasharray={dashed ? '7,5' : undefined} />
      ))}
      {hAxis(lcX, 189, lcDepthTicks, 2, 120, -1, 176)}
      {bar(lcX, 190, bTop, [0, 120], lcBlack, lcGrey, lcNames, true)}

      {/* ---------- panel b ---------- */}
      {lcLoess.map(([a, b, t], i) => (
        <rect key={i} x={lcX(a)} y={msY(t)} width={lcX(b) - lcX(a)} height={bBot - msY(t)} fill={ORANGE} />
      ))}
      {lcBounds.map((d, i) => (
        <line key={i} x1={lcX(d)} x2={lcX(d)} y1={bTop} y2={bBot} stroke="#000" strokeWidth={1.6} strokeDasharray="6,4" />
      ))}
      <path d={line(lcX, msY, lcMS)} fill="none" stroke="#ff0000" strokeWidth={1.7} />
      <path d={line(lcX, lcIncY, lcInc)} fill="none" stroke={PURPLE} strokeWidth={1.4} />
      {lcInc.map((p, i) => <circle key={i} cx={lcX(p[0])} cy={lcIncY(p[1])} r={2.6} fill={PURPLE} />)}
      {lcSoils.map(([t, s, d, v]) => <Lab key={t + s} x={lcX(d)} y={msY(v)} t={t} sub={s} color="#ff0000" />)}
      {lcLoessLab.map(([t, s, d, v]) => <Lab key={t + s} x={lcX(d)} y={msY(v)} t={t} sub={s} color="#000" />)}
      <text x={98} y={290} fontSize={25} fontWeight="bold">b</text>
      <line x1={L} x2={R} y1={bBot} y2={bBot} stroke="#000" strokeWidth={2} />

      {/* ---------- panel c ---------- */}
      {jyLoess.map(([a, b, t], i) => (
        <rect key={i} x={jyX(a)} y={grainY(t)} width={jyX(b) - jyX(a)} height={cBot - grainY(t)} fill={ORANGE} />
      ))}
      {jyBounds.map((d, i) => (
        <line key={i} x1={jyX(d)} x2={jyX(d)} y1={bBot} y2={cBot} stroke="#000" strokeWidth={1.6} strokeDasharray="6,4" />
      ))}
      <path d={line(jyX, thdY, jyThd)} fill="none" stroke={PURPLE} strokeWidth={1.5} />
      {jyThd.map((p, i) => <circle key={i} cx={jyX(p[0])} cy={thdY(p[1])} r={2.5} fill={PURPLE} />)}
      <path d={line(jyX, afdY, jyAfd)} fill="none" stroke={AFD} strokeWidth={1.4} />
      {jyAfd.map((p, i) => <circle key={i} cx={jyX(p[0])} cy={afdY(p[1])} r={3} fill={AFD} />)}
      {bar(jyX, 687, 711, jyExtent, jyBlack, jyGrey, jyNames, false)}
      <path d={line(jyX, d13Y, jyD13)} fill="none" stroke="#006633" strokeWidth={1.9} />
      <path d={line(jyX, grainY, jyGrain)} fill="none" stroke="#0000ff" strokeWidth={2.2} />
      {jySoils.map(([t, s, d, v]) => <Lab key={t + s} x={jyX(d)} y={grainY(v)} t={t} sub={s} color="#ff0000" />)}
      {jyLoessLab.map(([t, s, d, v]) => <Lab key={t + s} x={jyX(d)} y={grainY(v)} t={t} sub={s} color="#000" />)}
      <text x={98} y={492} fontSize={25} fontWeight="bold">c</text>

      {/* dating arrow */}
      <line x1={jyX(dating)} x2={jyX(dating)} y1={cBot} y2={482} stroke="#9c6e68" strokeWidth={2.4} />
      <polygon points={`${jyX(dating) - 4},484 ${jyX(dating) + 4},484 ${jyX(dating)},471`} fill={BROWN} />
      <text x={1208} y={472} textAnchor="end" fontSize={16} fill={BROWN}>
        <tspan dy={-7} fontSize={11}>26</tspan>
        <tspan dy={7}>Al/</tspan>
        <tspan dy={-7} fontSize={11}>10</tspan>
        <tspan dy={7}>Be dating, ~1.73 Ma</tspan>
      </text>

      {/* ---------- frame and axes ---------- */}
      <line x1={L} x2={L} y1={72} y2={cBot} stroke="#000" strokeWidth={2} />
      <line x1={R} x2={R} y1={72} y2={105} stroke="#000" strokeWidth={2} />
      <line x1={R} x2={R} y1={189} y2={cBot} stroke="#000" strokeWidth={2} />
      {vAxis(lcIncY, L, incTicks, d3.range(-90, 90.01, 15), -1)}
      {vAxis(thdY, L, incTicks, d3.range(-90, 90.01, 15), -1)}
      {vAxis(grainY, L, grainTicks, d3.range(15, 45.01, 2), -1)}
      {vAxis(msY, R, msTicks, d3.range(0, 300.01, 25), 1)}
      {vAxis(afdY, R, incTicks, d3.range(-90, 90.01, 15), 1)}
      {vAxis(d13Y, R, d13Ticks, d3.range(-9, 0.001, 0.6), 1)}
      {hAxis(jyX, cBot, jyDepthTicks, 5, 430, 1, 975)}
      <text x={659} y={999} textAnchor="middle" fontSize={17}>Depth (m)</text>

      {/* axis titles */}
      <text transform="translate(31,282) rotate(-90)" textAnchor="middle" fontSize={18}>LC THD inc (°)</text>
      <text transform="translate(31,511) rotate(-90)" textAnchor="middle" fontSize={18}>THD inc (°)</text>
      <text transform="translate(31,789) rotate(-90)" textAnchor="middle" fontSize={18}>JY mean (µm)</text>
      <text transform="translate(1292,383) rotate(-90)" textAnchor="middle" fontSize={18}>
        MS (10<tspan dy={-7} fontSize={12}>−8</tspan><tspan dy={7}>m</tspan><tspan dy={-7} fontSize={12}>3</tspan><tspan dy={7}>·kg</tspan><tspan dy={-7} fontSize={12}>−1</tspan><tspan dy={7}>)</tspan>
      </text>
      <text transform="translate(1292,615) rotate(-90)" textAnchor="middle" fontSize={18}>AFD inc (°)</text>
      <text transform="translate(1289,852) rotate(-90)" textAnchor="middle" fontSize={18}>
        JY δ<tspan dy={-7} fontSize={12}>13</tspan><tspan dy={7}>C</tspan><tspan dy={4} fontSize={12}>IC</tspan><tspan dy={-4}> (‰)</tspan>
      </text>
    </svg>
  );
}
